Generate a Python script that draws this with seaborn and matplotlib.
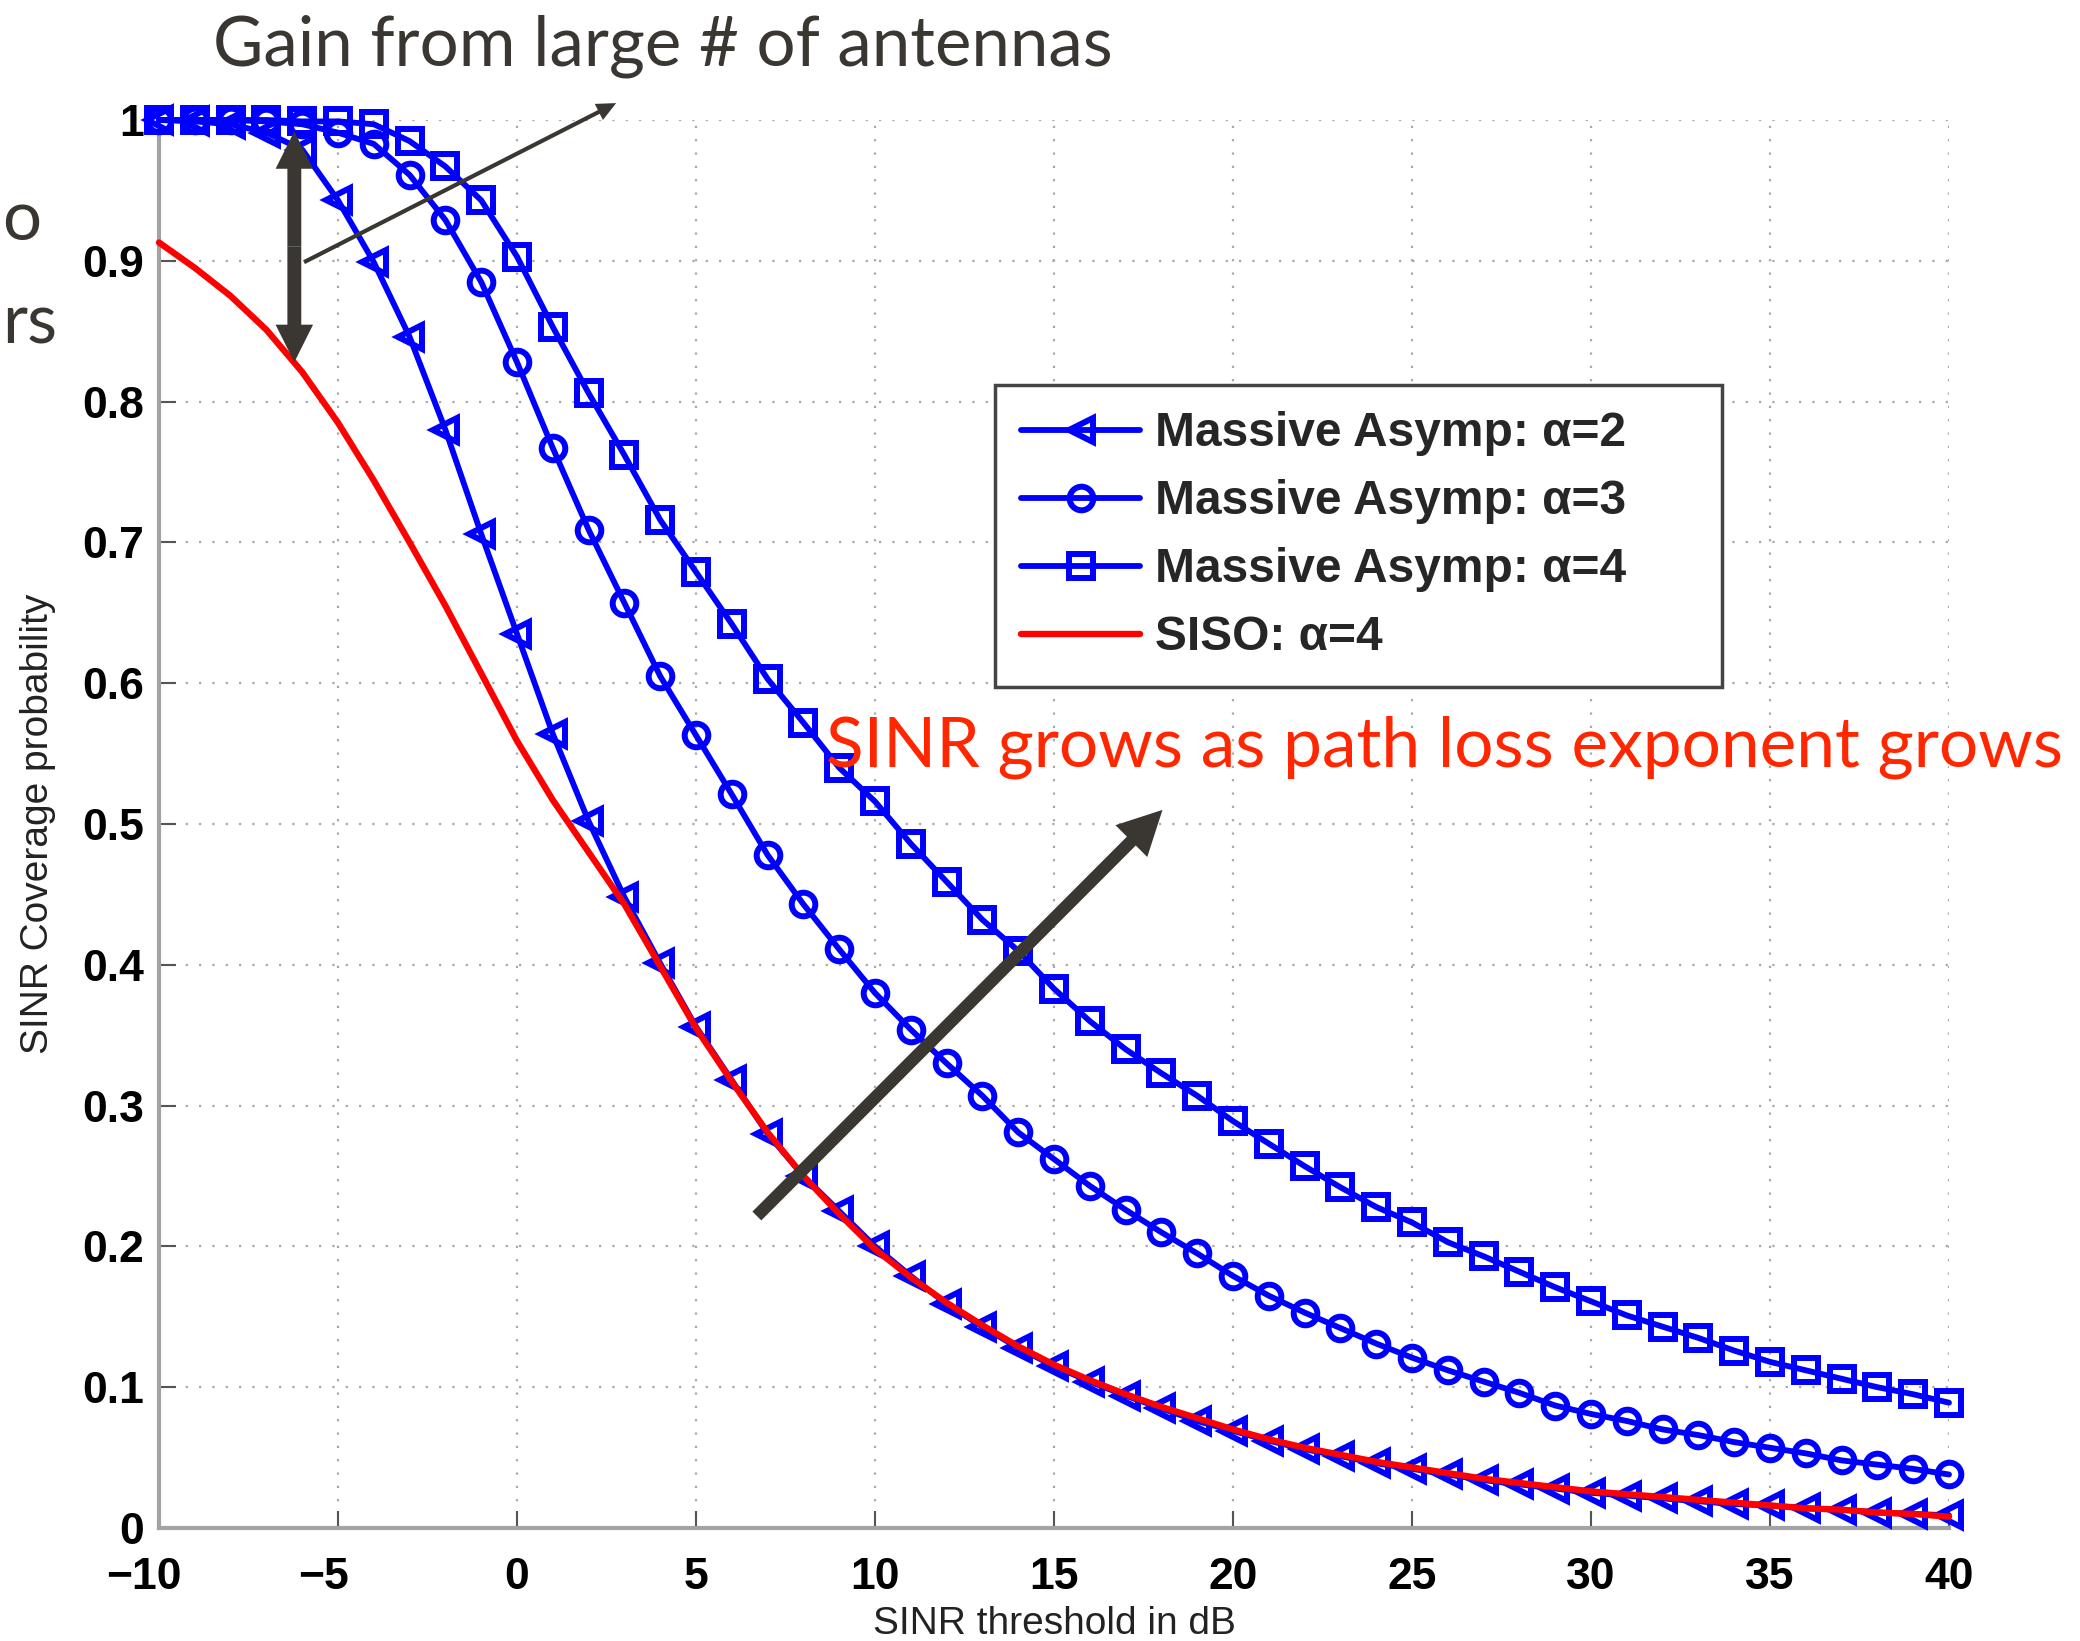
import matplotlib
matplotlib.use('Agg')
import matplotlib.pyplot as plt
import matplotlib.transforms as mtransforms
import seaborn as sns

# ---------------- data ----------------
x_db = list(range(-10, 41))
alpha2 = [1.000, 0.999, 0.997, 0.991, 0.979, 0.943, 0.899, 0.846, 0.780, 0.706,
          0.635, 0.564, 0.502, 0.448, 0.401, 0.356, 0.318, 0.280, 0.250, 0.225,
          0.200, 0.179, 0.159, 0.143, 0.128, 0.115, 0.104, 0.094, 0.085, 0.076,
          0.069, 0.062, 0.056, 0.051, 0.046, 0.042, 0.038, 0.034, 0.031, 0.028,
          0.025, 0.023, 0.021, 0.019, 0.017, 0.016, 0.014, 0.013, 0.011, 0.010,
          0.009]
alpha3 = [1.000, 1.000, 1.000, 0.999, 0.997, 0.991, 0.983, 0.961, 0.929, 0.885,
          0.828, 0.767, 0.709, 0.657, 0.605, 0.563, 0.521, 0.478, 0.443, 0.411,
          0.380, 0.354, 0.330, 0.307, 0.281, 0.262, 0.243, 0.226, 0.210, 0.195,
          0.179, 0.165, 0.153, 0.142, 0.131, 0.121, 0.112, 0.104, 0.096, 0.087,
          0.081, 0.076, 0.070, 0.066, 0.061, 0.057, 0.053, 0.048, 0.045, 0.042,
          0.038]
alpha4 = [1.000, 1.000, 1.000, 1.000, 0.999, 0.999, 0.997, 0.985, 0.967, 0.943,
          0.903, 0.853, 0.806, 0.762, 0.716, 0.679, 0.642, 0.603, 0.572, 0.540,
          0.516, 0.486, 0.459, 0.432, 0.410, 0.383, 0.360, 0.340, 0.323, 0.307,
          0.289, 0.273, 0.257, 0.242, 0.228, 0.217, 0.203, 0.193, 0.182, 0.171,
          0.161, 0.151, 0.143, 0.135, 0.126, 0.118, 0.112, 0.106, 0.100, 0.095,
          0.089]
siso = [0.913, 0.895, 0.875, 0.851, 0.821, 0.785, 0.744, 0.700, 0.655, 0.607,
        0.559, 0.517, 0.480, 0.443, 0.399, 0.355, 0.317, 0.281, 0.250, 0.223,
        0.198, 0.178, 0.160, 0.144, 0.129, 0.116, 0.105, 0.095, 0.086, 0.078,
        0.070, 0.063, 0.057, 0.052, 0.047, 0.043, 0.039, 0.035, 0.032, 0.029,
        0.026, 0.024, 0.022, 0.020, 0.018, 0.016, 0.014, 0.013, 0.011, 0.010,
        0.008]
series_labels = ['Massive Asymp: α=2', 'Massive Asymp: α=3',
                 'Massive Asymp: α=4', 'SISO: α=4']
xticks = [-10, -5, 0, 5, 10, 15, 20, 25, 30, 35, 40]
xticklabels = ['−10', '−5', '0', '5', '10', '15', '20', '25', '30', '35', '40']
yticks = [0, 0.1, 0.2, 0.3, 0.4, 0.5, 0.6, 0.7, 0.8, 0.9, 1.0]
yticklabels = ['0', '0.1', '0.2', '0.3', '0.4', '0.5', '0.6', '0.7', '0.8', '0.9', '1']
xlabel = 'SINR threshold in dB'
ylabel = 'SINR Coverage probability'
gain_text = 'Gain from large # of antennas'
sinr_text = 'SINR grows as path loss exponent grows'
edge_text_1 = 'o'
edge_text_2 = 'rs'

# ---------------- style ----------------
sns.set_theme(style='white')
plt.rcParams['font.family'] = ['Liberation Sans', 'DejaVu Sans']

W, H = 2080, 1641
fig = plt.figure(figsize=(W / 100, H / 100), dpi=100)
ax = fig.add_axes([159 / W, 1 - 1528 / H, 1790 / W, 1408 / H])

BLUE = '#0000ff'
RED = '#ff0000'
DARK = '#3a3732'

line_kw = dict(linewidth=4.2, markersize=17, markeredgewidth=4.3,
               markerfacecolor='none', clip_on=False, zorder=3)
sns.lineplot(x=x_db, y=alpha2, ax=ax, color=BLUE, marker='<',
             markeredgecolor=BLUE, label=series_labels[0], **line_kw)
sns.lineplot(x=x_db, y=alpha3, ax=ax, color=BLUE, marker='o',
             markeredgecolor=BLUE, label=series_labels[1], **line_kw)
sns.lineplot(x=x_db, y=alpha4, ax=ax, color=BLUE, marker='s',
             markeredgecolor=BLUE, label=series_labels[2], **line_kw)
sns.lineplot(x=x_db, y=siso, ax=ax, color=RED, linewidth=4.6,
             clip_on=False, zorder=4, label=series_labels[3])

ax.set_xlim(-10, 40)
ax.set_ylim(0, 1)
ax.set_xticks(xticks, xticklabels)
ax.set_yticks(yticks, yticklabels)

ax.grid(True, linestyle=(0, (1, 5)), color='#a8a8a8', linewidth=1.6)
ax.set_axisbelow(True)
for s in ['top', 'right']:
    ax.spines[s].set_visible(False)
for s in ['left', 'bottom']:
    ax.spines[s].set_color('#a3a3a3')
    ax.spines[s].set_linewidth(3)

ax.tick_params(axis='both', direction='in', length=12, width=1.5,
               color='#555555', labelsize=32, labelcolor='black',
               bottom=True, left=True, top=False, right=False)
ax.tick_params(axis='x', pad=21)
ax.tick_params(axis='y', pad=11)
for lab in ax.get_xticklabels() + ax.get_yticklabels():
    lab.set_fontweight('bold')
shift = mtransforms.ScaledTranslation(-15 / 100, 0, fig.dpi_scale_trans)
for lab in ax.get_xticklabels():
    if lab.get_text().startswith('−'):
        lab.set_transform(lab.get_transform() + shift)

ax.set_xlabel(xlabel, fontsize=28, color='#222222')
ax.set_ylabel(ylabel, fontsize=28, color='#222222')
ax.xaxis.label.set_va('baseline')
ax.xaxis.set_label_coords(0.5, (1528 - 1634) / 1408)
ax.yaxis.set_label_coords((56 - 159) / 1790, 0.5)

# ---------------- legend ----------------
handles, labs = ax.get_legend_handles_labels()
x0, x1 = 995 / W, 1722 / W
y0, y1 = 1 - 683 / H, 1 - 385 / H
leg = ax.legend(handles, labs, loc='upper left',
                bbox_to_anchor=(x0, y0, x1 - x0, y1 - y0),
                bbox_transform=fig.transFigure, mode='expand',
                borderaxespad=0, handlelength=2.48,
                handletextpad=0.3, borderpad=0.55, labelspacing=0.48,
                fancybox=False, framealpha=1, edgecolor='#444444',
                prop={'weight': 'bold', 'size': 34.5})
leg.get_frame().set_linewidth(2.5)
leg.set_zorder(5)

# ---------------- annotations ----------------
def arrow(start, end, hl, hw, tw, z=6):
    ax.annotate('', xy=end, xytext=start, annotation_clip=False, zorder=z,
                arrowprops=dict(arrowstyle=f'simple,head_length={hl},head_width={hw},tail_width={tw}',
                                mutation_scale=1, fc=DARK, ec='none', lw=0,
                                shrinkA=0, shrinkB=0))

# thick diagonal arrow
arrow((6.70, 0.2216), (18.03, 0.51), 31.7, 32.4, 9.0)
# vertical double arrow
arrow((-6.22, 0.91), (-6.22, 0.992), 27, 27, 10)
arrow((-6.22, 0.91), (-6.22, 0.828), 27, 27, 10)
# thin arrow to the label
arrow((-5.95, 0.899), (2.77, 1.012), 14, 13, 3.0)

txt_font = ['Lato', 'DejaVu Sans']
t_gain = fig.text(213 / W, 1 - 65 / H, gain_text, fontsize=46, color=DARK,
                  family=txt_font, ha='left', va='baseline', zorder=7)
t_sinr = fig.text(826 / W, 1 - 767 / H, sinr_text, fontsize=48, color='#ff2600',
                  family=txt_font, ha='left', va='baseline', zorder=7)
t_o = fig.text(2 / W, 1 - 240 / H, edge_text_1, fontsize=46, color=DARK,
               family=txt_font, ha='left', va='baseline')
t_rs = fig.text(2 / W, 1 - 343 / H, edge_text_2, fontsize=46, color=DARK,
                family=txt_font, ha='left', va='baseline')

fig.canvas.draw()
r = fig.canvas.get_renderer()
for t, target in [(t_gain, 900), (t_sinr, 1237)]:
    w = t.get_window_extent(r).width
    t.set_fontsize(t.get_fontsize() * target / w)
fs = t_gain.get_fontsize()
t_o.set_fontsize(fs)
t_rs.set_fontsize(fs)

fig.savefig('out.png', dpi=100, facecolor='white')
